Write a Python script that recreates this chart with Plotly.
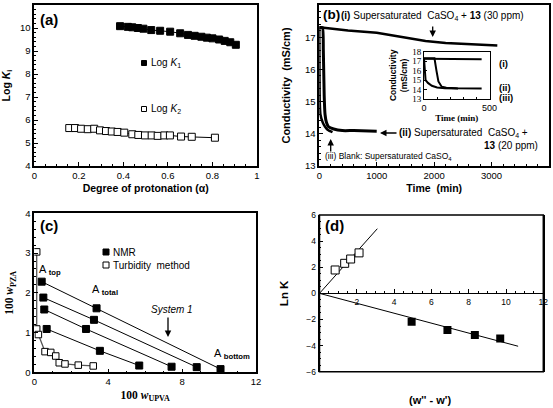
import plotly.graph_objects as go

W, H = 553, 408
SANS = "Liberation Sans, Arial, sans-serif"
SERIF = "Liberation Serif, Times New Roman, serif"

# ---------------- data ----------------
# (a) stability constants vs degree of protonation
a_k1_alpha = [0.385, 0.42, 0.44, 0.465, 0.49, 0.525, 0.565, 0.61, 0.655, 0.69,
              0.72, 0.75, 0.775, 0.80, 0.83, 0.855, 0.88, 0.905]
a_k1_log = [10.08, 10.05, 10.03, 10.0, 9.97, 9.91, 9.88, 9.84, 9.77, 9.7,
            9.66, 9.62, 9.58, 9.55, 9.5, 9.44, 9.38, 9.27]
a_k2_alpha = [0.157, 0.183, 0.21, 0.24, 0.269, 0.295, 0.322, 0.348, 0.374, 0.404,
              0.44, 0.467, 0.497, 0.527, 0.554, 0.584, 0.609, 0.659, 0.707, 0.811]
a_k2_log = [5.65, 5.65, 5.62, 5.6, 5.62, 5.55, 5.52, 5.5, 5.48, 5.45,
            5.38, 5.35, 5.33, 5.33, 5.31, 5.33, 5.33, 5.28, 5.27, 5.23]

# (b) conductivity vs time
b_i_t = [0, 200, 500, 1000, 1500, 1850, 2200, 2600, 3100]
b_i_c = [17.31, 17.27, 17.21, 17.14, 17.0, 16.88, 16.82, 16.78, 16.74]
b_ii_t = [0, 55, 70, 85, 100, 125, 160, 250, 400, 600, 1000]
b_ii_c = [17.3, 17.3, 16.6, 15.2, 14.6, 14.35, 14.22, 14.15, 14.1, 14.1, 14.08]
b_iii_t = [0, 8, 20, 60, 100, 150, 230]
b_iii_c = [17.3, 15.0, 14.6, 14.35, 14.22, 14.12, 14.05]
# inset (0-500 min)
in_i_t = [0, 440]
in_i_c = [17.25, 17.2]
in_ii_t = [0, 80, 95, 110, 135, 170, 250, 440]
in_ii_c = [17.3, 17.3, 16.0, 14.85, 14.3, 14.18, 14.13, 14.12]
in_iii_t = [0, 12, 30, 60, 100, 160, 260]
in_iii_c = [17.3, 15.0, 14.7, 14.4, 14.22, 14.14, 14.1]

# (c) phase diagram: NMR tie lines (top, total, bottom) and turbidity binodal
c_tie_x = [[0.40, 3.37, 10.08], [0.49, 3.23, 8.79], [0.54, 2.80, 7.43], [0.67, 3.55, 5.68]]
c_tie_y = [[2.28, 1.61, 0.08], [1.88, 1.32, 0.13], [1.58, 1.09, 0.14], [1.09, 0.54, 0.17]]
c_turb_x = [0.13, 0.13, 0.22, 0.58, 0.89, 1.16, 1.35, 1.66, 2.38, 3.19]
c_turb_y = [3.03, 1.09, 0.95, 0.52, 0.50, 0.41, 0.24, 0.21, 0.18, 0.16]

# (d) Ln K vs (w'' - w')
d_open_x = [0.84, 1.35, 1.67, 2.12]
d_open_y = [1.79, 2.3, 2.63, 3.1]
d_open_fit_x = [0, 3.1]
d_open_fit_y = [0, 4.95]
d_fill_x = [4.94, 6.86, 8.33, 9.69]
d_fill_y = [-2.17, -2.81, -3.19, -3.45]
d_fill_fit_x = [0, 10.65]
d_fill_fit_y = [0, -4.05]


# ---------------- helpers ----------------
def px(x, y):
    return x / W, 1 - y / H


def dom(x0, x1, y0, y1):
    return [x0 / W, x1 / W], [1 - y1 / H, 1 - y0 / H]


def axis(size=9.5, family=SANS, lw=1.5, minor=None, **kw):
    d = dict(showline=True, linecolor="black", linewidth=lw, mirror=True,
             ticks="inside", ticklen=4, tickwidth=1, tickcolor="black",
             showgrid=False, zeroline=False, automargin=False,
             tickfont=dict(family=family, size=size, color="black"))
    if minor is not None:
        d["minor"] = dict(ticks="inside", ticklen=2, tickwidth=1,
                          tickcolor="black", dtick=minor, showgrid=False)
    d.update(kw)
    return d


def txt(x, y, text, size=10, family=SANS, xanchor="left", yanchor="middle"):
    X, Y = px(x, y)
    return dict(x=X, y=Y, xref="paper", yref="paper", text=text, showarrow=False,
                xanchor=xanchor, yanchor=yanchor, borderpad=0,
                font=dict(family=family, size=size, color="black"))


def arrow(hx, hy, tx, ty):
    X, Y = px(hx, hy)
    return dict(x=X, y=Y, xref="paper", yref="paper", ax=tx - hx, ay=ty - hy,
                text="", showarrow=True, arrowhead=2, arrowsize=1,
                arrowwidth=1.3, arrowcolor="black")


def key(cx, cy, s, filled):
    X0, Y0 = px(cx - s / 2, cy + s / 2)
    X1, Y1 = px(cx + s / 2, cy - s / 2)
    return dict(type="rect", xref="paper", yref="paper", x0=X0, x1=X1, y0=Y0, y1=Y1,
                line=dict(color="black", width=1),
                fillcolor="black" if filled else "white")


dxa, dya = dom(34.3, 257, 5, 166)
dxb, dyb = dom(319.3, 549, 5, 166)
dxi, dyi = dom(424, 489.5, 51.7, 99)
dxc, dyc = dom(34.3, 256, 213.3, 372.3)
dxd, dyd = dom(319.5, 543.3, 215, 371.7)

fig = go.Figure()

FILL = dict(symbol="square", size=7, color="black", line=dict(color="black", width=1))
OPEN = dict(symbol="square", size=7, color="white", line=dict(color="black", width=1))

# (a)
fig.add_trace(go.Scatter(x=a_k1_alpha, y=a_k1_log, mode="lines+markers", marker=FILL,
                         line=dict(color="black", width=1), xaxis="x", yaxis="y", showlegend=False))
fig.add_trace(go.Scatter(x=a_k2_alpha, y=a_k2_log, mode="lines+markers", marker=OPEN,
                         line=dict(color="black", width=1), xaxis="x", yaxis="y", showlegend=False))

# (b)
fig.add_trace(go.Scatter(x=b_i_t, y=b_i_c, mode="lines", line=dict(color="black", width=2.5),
                         xaxis="x2", yaxis="y2", showlegend=False))
fig.add_trace(go.Scatter(x=b_ii_t, y=b_ii_c, mode="lines", line=dict(color="black", width=3, shape="spline", smoothing=0.5),
                         xaxis="x2", yaxis="y2", showlegend=False))
fig.add_trace(go.Scatter(x=b_iii_t, y=b_iii_c, mode="lines", line=dict(color="black", width=2.5, shape="spline", smoothing=0.5),
                         xaxis="x2", yaxis="y2", showlegend=False))
# inset
for tt, cc in [(in_i_t, in_i_c), (in_ii_t, in_ii_c), (in_iii_t, in_iii_c)]:
    fig.add_trace(go.Scatter(x=tt, y=cc, mode="lines", line=dict(color="black", width=2),
                             xaxis="x5", yaxis="y5", showlegend=False))

# (c)
for xs, ys in zip(c_tie_x, c_tie_y):
    fig.add_trace(go.Scatter(x=xs, y=ys, mode="lines+markers", marker=FILL,
                             line=dict(color="black", width=1), xaxis="x3", yaxis="y3", showlegend=False))
fig.add_trace(go.Scatter(x=c_turb_x, y=c_turb_y, mode="lines+markers",
                         marker=dict(symbol="square", size=6.5, color="white", line=dict(color="black", width=1)),
                         line=dict(color="#555", width=1.3), xaxis="x3", yaxis="y3", showlegend=False))

# (d)
fig.add_trace(go.Scatter(x=d_open_fit_x, y=d_open_fit_y, mode="lines", line=dict(color="black", width=1),
                         xaxis="x4", yaxis="y4", showlegend=False))
fig.add_trace(go.Scatter(x=d_fill_fit_x, y=d_fill_fit_y, mode="lines", line=dict(color="black", width=1),
                         xaxis="x4", yaxis="y4", showlegend=False))
fig.add_trace(go.Scatter(x=d_open_x, y=d_open_y, mode="markers",
                         marker=dict(symbol="square", size=8, color="white", line=dict(color="black", width=1)),
                         xaxis="x4", yaxis="y4", showlegend=False))
fig.add_trace(go.Scatter(x=d_fill_x, y=d_fill_y, mode="markers",
                         marker=dict(symbol="square", size=8, color="black"),
                         xaxis="x4", yaxis="y4", showlegend=False))

TB = lambda s, fam=SANS: dict(font=dict(family=fam, size=s, color="black"))

zero_pos = dyd[0] + (0 - (-6)) / 12 * (dyd[1] - dyd[0])

fig.update_layout(
    width=W, height=H, margin=dict(l=0, r=0, t=0, b=0),
    paper_bgcolor="white", plot_bgcolor="white",
    xaxis=axis(domain=dxa, anchor="y", range=[0, 1], dtick=0.2, minor=0.05,
               title=dict(text="<b>Degree of protonation (α)</b>", standoff=4, **TB(10.5))),
    yaxis=axis(domain=dya, anchor="x", range=[4, 11], dtick=1, minor=0.2,
               title=dict(text="<b>Log <i>K</i><sub>i</sub></b>", standoff=8, **TB(10.5))),
    xaxis2=axis(domain=dxb, anchor="y2", range=[0, 4000], dtick=1000, minor=200,
                title=dict(text="<b>Time  (min)</b>", standoff=4, **TB(10.5))),
    yaxis2=axis(domain=dyb, anchor="x2", range=[13, 18], dtick=1, minor=0.2,
                title=dict(text="<b>Conductivity  (mS/cm)</b>", standoff=12, **TB(11))),
    xaxis5=axis(domain=dxi, anchor="y5", range=[0, 500], tickvals=[0, 500], minor=100, lw=1,
                ticklen=3, tickfont=dict(family=SANS, size=9, color="black"),
                title=dict(text="<b>Time (min)</b>", standoff=2, **TB(9, SERIF))),
    yaxis5=axis(domain=dyi, anchor="x5", range=[13, 18], dtick=1, lw=1, ticklen=3,
                tickfont=dict(family=SERIF, size=9, color="black"),
                title=dict(text="<b>Conductivity<br>(mS/cm)</b>", standoff=3, **TB(8.5))),
    xaxis3=axis(domain=dxc, anchor="y3", range=[0, 12], dtick=4, minor=1,
                title=dict(text="<b>100 <i>w</i><sub>UPVA</sub></b>", standoff=4, **TB(11.5, SERIF))),
    yaxis3=axis(domain=dyc, anchor="x3", range=[0, 4], dtick=1, minor=0.2,
                title=dict(text="<b>100 <i>w</i><sub>PZA</sub></b>", standoff=9, **TB(11.5, SERIF))),
    xaxis4=axis(domain=dxd, anchor="free", position=zero_pos, range=[0, 12],
                tickvals=[2, 4, 6, 8, 10, 12], minor=0.5, mirror=False, lw=1.2,
                tickfont=dict(family=SANS, size=8.5, color="black")),
    yaxis4=axis(domain=dyd, anchor="x4", range=[-6, 6], dtick=2, minor=0.5,
                tickfont=dict(family=SANS, size=8.5, color="black"),
                title=dict(text="<b>Ln K</b>", standoff=15, **TB(11.5))),
    shapes=[
        dict(type="rect", xref="x4 domain", yref="y4 domain", x0=0, x1=1, y0=0, y1=1,
             line=dict(color="black", width=1.5)),
        key(144, 63, 5, True), key(144, 109, 5, False),
        key(106, 252, 6, True), key(106, 265, 6, False),
    ],
    annotations=[
        # (a)
        txt(39, 19, "<b>(a)</b>", 15),
        txt(150, 63, "Log <i>K</i><sub>1</sub>", 10),
        txt(150, 109, "Log <i>K</i><sub>2</sub>", 10),
        # (b)
        txt(322, 15, "<b>(b)</b>", 13.5),
        txt(340, 16, "<b>(i)</b> Supersaturated  CaSO<sub>4</sub> + <b>13</b> (30 ppm)", 10),
        arrow(432.7, 37, 432.7, 25),
        txt(398, 133, "<b>(ii)</b> Supersaturated  CaSO<sub>4</sub> +", 10),
        arrow(380, 133, 398, 133),
        txt(539, 145, "<b>13</b> (20 ppm)", 10, xanchor="right"),
        arrow(330.7, 139, 330.7, 153),
        txt(324, 156, "(iii) Blank: Supersaturated CaSO<sub>4</sub>", 8.5),
        txt(498, 63, "<b>(i)</b>", 9.5),
        txt(498, 87, "<b>(ii)</b>", 9.5),
        txt(498, 97, "<b>(iii)</b>", 9.5),
        # (c)
        txt(39, 225, "<b>(c)</b>", 15),
        txt(112, 252, "NMR", 10),
        txt(112, 265, "Turbidity  method", 10),
        txt(38, 270, "A <sub><b>top</b></sub>", 11),
        txt(91, 290, "A <sub><b>total</b></sub>", 11),
        txt(213, 354, "A <sub><b>bottom</b></sub>", 11),
        txt(172, 309, "<i>System 1</i>", 10, xanchor="center"),
        arrow(168, 337, 168, 316),
        # (d)
        txt(324, 225, "<b>(d)</b>", 15),
        txt(430, 400, "<b>(w'' - w')</b>", 11, xanchor="center"),
    ],
)

fig.write_html("out.html", config={"displayModeBar": False},
               post_script="document.body.style.margin='0';document.body.style.overflow='hidden';")
